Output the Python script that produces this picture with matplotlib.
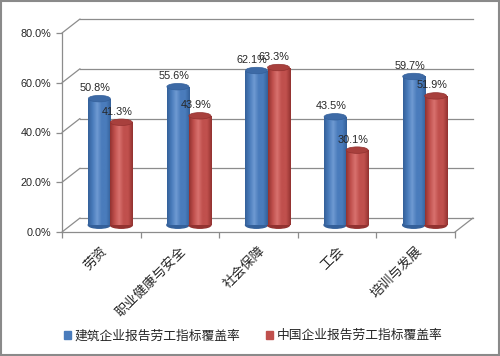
import numpy as np
import matplotlib

matplotlib.use("Agg")
import matplotlib.pyplot as plt  # noqa: E402
from matplotlib.colors import LinearSegmentedColormap  # noqa: E402
from matplotlib.patches import ConnectionPatch, Ellipse, Rectangle  # noqa: E402
from matplotlib.transforms import ScaledTranslation  # noqa: E402

plt.rcParams["font.family"] = ["Liberation Sans", "Noto Sans CJK SC", "DejaVu Sans"]

categories = ["劳资", "职业健康与安全", "社会保障", "工会", "培训与发展"]
construction = [0.508, 0.556, 0.621, 0.435, 0.597]
china = [0.413, 0.439, 0.633, 0.301, 0.519]
series_names = ["建筑企业报告劳工指标覆盖率", "中国企业报告劳工指标覆盖率"]
yticks = [0.0, 0.2, 0.4, 0.6, 0.8]

BLUE = ("#34609a", "#6f9ad2", "#4a7cbc", "#3d6aa6")   # edge, light, mid, top
RED = ("#923230", "#d8716e", "#c0504d", "#a8403d")
GRID = "#8c8c8c"
TXT = "#262626"

fig = plt.figure(figsize=(5.0, 3.56), dpi=100)
ax = fig.add_axes([62 / 500, 124 / 356, 393 / 500, 199 / 356])
ax.set_xlim(-0.5, len(categories) - 0.5)
ax.set_ylim(0, 0.8)

# 3D-ish depth offsets (middle of the box, back wall)
mid = ax.transData + ScaledTranslation(0.09, 0.07, fig.dpi_scale_trans)
back = ax.transData + ScaledTranslation(0.18, 0.14, fig.dpi_scale_trans)

x0, x1 = -0.5, len(categories) - 0.5
for v in yticks:
    ax.plot([x0, x1], [v, v], color=GRID, lw=0.9, transform=back, clip_on=False, zorder=0)
    ax.add_artist(ConnectionPatch((x0, v), (x0, v), coordsA=ax.transData, coordsB=back,
                                  color=GRID, lw=0.9, zorder=0))
ax.add_artist(ConnectionPatch((x1, 0), (x1, 0), coordsA=ax.transData, coordsB=back,
                              color=GRID, lw=0.9, zorder=0))

width = 0.28
eh = 0.026
xs = np.arange(len(categories))


def cylinder(x, h, cols):
    edge, light, midc, top = cols
    cmap = LinearSegmentedColormap.from_list("c", [edge, midc, light, midc, midc, edge])
    ax.add_patch(Ellipse((x, 0), width, eh, transform=mid, color=edge, zorder=2))
    body = ax.bar(x, h, width, bottom=0, transform=mid, color=midc, zorder=2)[0]
    im = ax.imshow(np.linspace(0, 1, 64).reshape(1, -1), cmap=cmap, aspect="auto",
                   extent=(x - width / 2, x + width / 2, 0, h), zorder=3)
    im.set_transform(mid)
    im.set_clip_path(body)
    ax.add_patch(Ellipse((x, h), width, eh, transform=mid, facecolor=top,
                         edgecolor=edge, lw=0.5, zorder=4))
    ax.annotate(f"{h * 100:.1f}%", (x, h), xycoords=mid, xytext=(-3, 4),
                textcoords="offset points", ha="center", va="bottom",
                fontsize=7.8, color=TXT, zorder=5)


for i in range(len(categories)):
    cylinder(xs[i] - width / 2, construction[i], BLUE)
    cylinder(xs[i] + width / 2, china[i], RED)

ax.set_xlim(x0, x1)
ax.set_ylim(0, 0.8)

for s in ["top", "right"]:
    ax.spines[s].set_visible(False)
for s in ["left", "bottom"]:
    ax.spines[s].set_color(GRID)
    ax.spines[s].set_linewidth(0.9)

ax.set_yticks(yticks)
ax.set_yticklabels([f"{v * 100:.1f}%" for v in yticks], fontsize=7.8, color=TXT)
ax.tick_params(axis="y", length=4, width=0.9, color=GRID, pad=4)

ax.set_xticks(xs)
ax.set_xticklabels(categories, rotation=45, ha="right", va="top",
                   rotation_mode="anchor", fontsize=9.5, color=TXT)
ax.tick_params(axis="x", which="major", length=0, pad=9)
ax.set_xticks(np.arange(len(categories) + 1) - 0.5, minor=True)
ax.tick_params(axis="x", which="minor", length=4, width=0.9, color=GRID)

handles = [Rectangle((0, 0), 1, 1, color=BLUE[2]), Rectangle((0, 0), 1, 1, color=RED[2])]
fig.legend(handles, series_names, loc="center", bbox_to_anchor=(0.506, 0.056), ncol=2,
           frameon=False, fontsize=9.2, handlelength=0.55, handleheight=0.55,
           handletextpad=0.3, columnspacing=2.0, labelcolor=TXT)

fig.add_artist(Rectangle((0.002, 0.003), 0.996, 0.994, transform=fig.transFigure,
                         fill=False, edgecolor="#8a8a8a", lw=1.5))

fig.savefig("out.png", dpi=100)
